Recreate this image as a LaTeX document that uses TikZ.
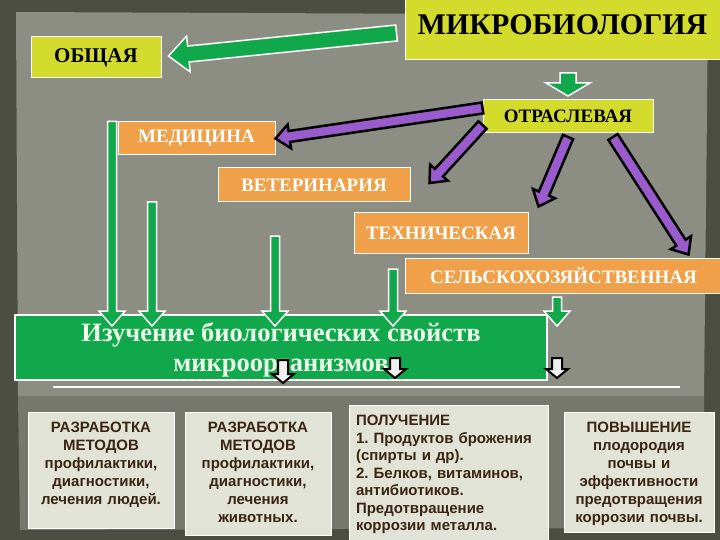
\documentclass[tikz,border=0pt]{standalone}
\usepackage{fontspec}
\setmainfont{Liberation Serif}
\newfontfamily\notefont{Liberation Sans}
\usetikzlibrary{calc}
\frenchspacing
\definecolor{framedark}{HTML}{4B4E41}
\definecolor{panelgray}{HTML}{8D8E83}
\definecolor{panellow}{HTML}{76776D}
\definecolor{titleyellow}{HTML}{D3DC2C}
\definecolor{branchorange}{HTML}{F0A048}
\definecolor{studygreen}{HTML}{10A84A}
\definecolor{arrowviolet}{HTML}{9A5CCC}
\definecolor{notegray}{HTML}{E0E3D6}
\definecolor{notebrown}{HTML}{3A2412}
\tikzset{yellowbox/.style={fill=titleyellow, draw=white, line width=1pt, inner sep=0pt, font=\bfseries}}
\tikzset{orangebox/.style={fill=branchorange, draw=white, line width=1pt, inner sep=0pt, text=white, font=\bfseries\fontsize{19}{19}\selectfont}}
\tikzset{notebox/.style={fill=notegray, draw=white, line width=0.8pt, anchor=north, inner xsep=4pt, inner ysep=10pt, text height=10.5pt, text=notebrown, align=center, font=\notefont\bfseries\fontsize{15}{18}\selectfont}}
\tikzset{greenarrow/.style={fill=studygreen, draw=white, line width=1.5pt, line join=miter}}
\tikzset{violetarrow/.style={fill=arrowviolet, draw=black, line width=2.5pt, line join=miter}}
\tikzset{pointer/.style={fill=white!88!gray, draw=black, line width=2pt, line join=miter}}
% #1 style, #2 from, #3 to, #4 half shaft, #5 half head, #6 head length
\newcommand{\blockarrow}[6]{%
  \coordinate (headbase) at ($(#3)!#6pt!(#2)$);
  \draw[#1] ($(#2)!#4pt!90:(#3)$) -- ($(headbase)!#4pt!90:(#3)$)
    -- ($(headbase)!#5pt!90:(#3)$) -- (#3) -- ($(headbase)!#5pt!-90:(#3)$)
    -- ($(headbase)!#4pt!-90:(#3)$) -- ($(#2)!#4pt!-90:(#3)$) -- cycle;
}

\begin{document}
\begin{tikzpicture}[x=1pt, y=1pt]
  \useasboundingbox (0,0) rectangle (720,-540);
  \fill[framedark] (0,0) rectangle (720,-540);
  \fill[panelgray] (16,-12) -- (708,-15) -- (704,-396) -- (18,-396) -- cycle;
  \fill[panellow] (18,-396) -- (704,-396) -- (706,-528) -- (20,-530) -- cycle;

  \node[yellowbox, minimum width=315, minimum height=60, text height=27pt, text depth=17pt, font=\bfseries\fontsize{30}{30}\selectfont] (mikro) at (562.5,-30) {МИКРОБИОЛОГИЯ};
  \node[yellowbox, minimum width=130, minimum height=41, font=\bfseries\fontsize{21}{21}\selectfont] (general) at (96,-57.5) {ОБЩАЯ};
  \node[yellowbox, minimum width=170, minimum height=33, font=\bfseries\fontsize{19}{19}\selectfont] (branch) at (568,-116) {ОТРАСЛЕВАЯ};

  \node[orangebox, minimum width=157, minimum height=33] (med) at (196.5,-138.5) {МЕДИЦИНА};
  \node[orangebox, minimum width=192, minimum height=34] (vet) at (314,-185) {ВЕТЕРИНАРИЯ};
  \node[orangebox, minimum width=174, minimum height=40] (tech) at (441,-233) {ТЕХНИЧЕСКАЯ};
  \node[orangebox, minimum width=317, minimum height=35] (agri) at (563.5,-275.5) {СЕЛЬСКОХОЗЯЙСТВЕННАЯ};

  \node[fill=studygreen, draw=white, line width=1.5pt, minimum width=532, minimum height=65, text=white!92!green, align=center, font=\bfseries\fontsize{26.5}{30}\selectfont] (study) at (281,-347.5) {\rule{0pt}{23pt}Изучение биологических свойств\\микроорганизмов};

  \draw[white, line width=1.2pt] (53,-387) -- (680,-387);

  \node[notebox, text width=138, text depth=85pt] (medwork) at (101,-412) {РАЗРАБОТКА\\МЕТОДОВ\\профилактики,\\диагностики,\\лечения людей.};
  \node[notebox, text width=138, text depth=92pt] (vetwork) at (258,-412) {РАЗРАБОТКА\\МЕТОДОВ\\профилактики,\\диагностики,\\лечения\\животных.};
  \node[notebox, align=left, inner xsep=7pt, text width=185, text depth=110pt, font=\notefont\bfseries\fontsize{15}{17.5}\selectfont] (techwork) at (448.5,-405) {ПОЛУЧЕНИЕ\\1. Продуктов брожения\\(спирты и др).\\2. Белков, витаминов,\\антибиотиков.\\Предотвращение\\коррозии металла.};
  \node[notebox, text width=142, text depth=89pt] (agriwork) at (639,-412) {ПОВЫШЕНИЕ\\плодородия\\почвы и\\эффективности\\предотвращения\\коррозии почвы.};

  \coordinate (gstart) at ([xshift=-8pt, yshift=-3pt]mikro.west);
  \coordinate (gend) at ([xshift=7pt, yshift=1.5pt]general.east);
  \blockarrow{greenarrow}{gstart}{gend}{8}{18}{20}
  \coordinate (dstart) at ([yshift=26pt]branch.north);
  \coordinate (dend) at ([yshift=3pt]branch.north);
  \blockarrow{greenarrow}{dstart}{dend}{8}{22}{13}

  \coordinate (va) at ([yshift=8pt]branch.west);
  \coordinate (vb) at ([yshift=-9pt]branch.west);
  \coordinate (vc) at ([yshift=-4pt]branch.south);
  \coordinate (vd) at ([xshift=45pt, yshift=-4pt]branch.south);
  \blockarrow{violetarrow}{va}{med.east}{5.5}{12}{14}
  \coordinate (vbend) at ([xshift=19pt, yshift=2pt]vet.east);
  \blockarrow{violetarrow}{vb}{vbend}{5.5}{12}{14}
  \coordinate (vcend) at ([xshift=10pt, yshift=6pt]tech.north east);
  \blockarrow{violetarrow}{vc}{vcend}{5.5}{12}{14}
  \coordinate (vdend) at ([xshift=125pt, yshift=3pt]agri.north);
  \blockarrow{violetarrow}{vd}{vdend}{5.5}{12}{14}

  \foreach \xs/\ys [count=\i] in {112/121.5, 152/202, 275/236, 393/269, 557/297} {
    \path (\xs,-\ys) coordinate (down\i) (study.north -| down\i) ++(0,-12) coordinate (tip\i);
    \blockarrow{greenarrow}{down\i}{tip\i}{4.5}{13}{15}
  }

  \foreach \xs/\ys/\ye [count=\i] in {283/360/383, 395/358/378, 557/358/378} {
    \path (\xs,-\ys) coordinate (pin\i) (\xs,-\ye) coordinate (pout\i);
    \blockarrow{pointer}{pin\i}{pout\i}{5}{11}{9}
  }
\end{tikzpicture}
\end{document}
